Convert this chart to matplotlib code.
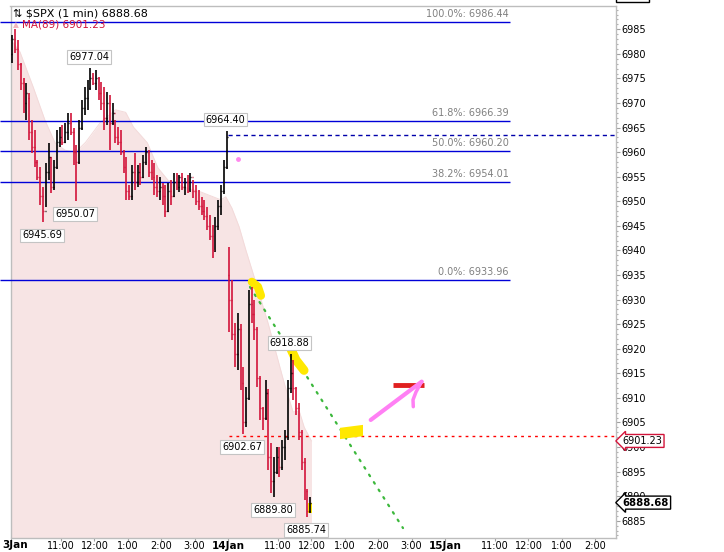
import matplotlib
matplotlib.use("Agg")
import matplotlib.pyplot as plt
from matplotlib.ticker import MultipleLocator, FixedLocator
from matplotlib.transforms import blended_transform_factory
from matplotlib.patches import Rectangle
import numpy as np

plt.rcParams['font.family'] = ['DejaVu Sans']

# ---------------- data (5-minute bars) ----------------
# time axis = trading minutes since 13 Jan 09:30 (one session = 390 minutes)
opens13 = [6980, 6983, 6981, 6978, 6974, 6970, 6971, 6964, 6961, 6958, 6955, 6951, 6948, 6956, 6959, 6953,
           6957, 6962, 6963, 6962, 6964, 6966, 6964, 6960, 6958, 6965, 6969, 6971, 6973, 6975, 6974, 6975,
           6972, 6970, 6967, 6970, 6966, 6968, 6963, 6962, 6960, 6957, 6952, 6951, 6956, 6954, 6956, 6955,
           6958, 6960, 6956, 6955, 6953, 6952, 6953, 6951, 6948, 6952, 6951, 6954, 6953, 6955, 6953, 6954,
           6952, 6955, 6952, 6950, 6949, 6948, 6947, 6945, 6943, 6940, 6945, 6949, 6952, 6957]
highs13 = [6983.8, 6985.0, 6982.8, 6978.2, 6975.1, 6974.1, 6972.0, 6966.5, 6964.5, 6958.4, 6957.0, 6952.9,
           6957.8, 6961.9, 6959.0, 6958.4, 6964.5, 6965.1, 6965.5, 6965.9, 6968.0, 6968.0, 6965.0, 6961.4,
           6966.5, 6970.6, 6973.3, 6974.7, 6977.04, 6976.2, 6976.7, 6975.3, 6974.3, 6973.3, 6972.2, 6971.6,
           6970.0, 6966.5, 6965.1, 6964.5, 6960.4, 6959.0, 6953.3, 6957.4, 6959.8, 6957.4, 6957.8, 6959.4,
           6961.0, 6960.4, 6958.4, 6957.8, 6955.3, 6955.0, 6953.7, 6953.3, 6953.7, 6954.3, 6955.8, 6955.8,
           6955.4, 6955.8, 6954.7, 6955.4, 6955.8, 6954.3, 6953.3, 6952.3, 6950.9, 6950.3, 6948.8, 6947.2,
           6945.2, 6946.8, 6950.3, 6953.3, 6958.4, 6964.40]
lows13 = [6978.1, 6980.2, 6976.7, 6972.6, 6968.0, 6966.5, 6962.5, 6959.8, 6957.0, 6954.3, 6949.2, 6945.69,
          6948.8, 6954.3, 6951.7, 6952.3, 6956.5, 6961.1, 6961.5, 6961.8, 6962.5, 6963.5, 6957.4, 6950.07,
          6957.5, 6964.5, 6967.5, 6968.6, 6972.6, 6973.7, 6972.6, 6970.6, 6968.6, 6964.5, 6965.5, 6960.4,
          6965.5, 6961.8, 6961.4, 6959.4, 6955.8, 6950.3, 6950.3, 6950.3, 6952.3, 6952.9, 6953.3, 6954.8,
          6957.4, 6955.0, 6954.3, 6951.3, 6950.9, 6950.3, 6949.2, 6946.8, 6947.8, 6949.2, 6950.8, 6952.3,
          6951.9, 6952.3, 6951.3, 6951.7, 6951.8, 6950.7, 6949.2, 6948.2, 6947.2, 6946.2, 6944.2, 6942.1,
          6938.5, 6939.6, 6944.2, 6947.2, 6951.5, 6956.5]
closes13 = [6983, 6981, 6978, 6974, 6970, 6972, 6964, 6961, 6958, 6955, 6951, 6948, 6956, 6959, 6953, 6957,
            6962, 6963, 6962, 6964, 6966, 6964, 6960, 6958, 6965, 6969, 6971, 6973, 6975, 6974, 6975, 6972,
            6970, 6967, 6970, 6966, 6968, 6963, 6962, 6960, 6957, 6952, 6951, 6956, 6954, 6956, 6955, 6958,
            6960, 6956, 6955, 6953, 6952, 6953, 6951, 6948, 6952, 6951, 6954, 6953, 6955, 6953, 6954, 6952,
            6955, 6952, 6950, 6949, 6948, 6947, 6945, 6943, 6940, 6945, 6949, 6952, 6957, 6963]

opens14 = [6935, 6930, 6923, 6919, 6924, 6913, 6905, 6910, 6929, 6927, 6924, 6914, 6908, 6906, 6911,
           6898, 6893, 6895, 6898, 6896, 6900, 6902, 6912, 6915, 6912, 6908, 6903, 6897, 6891, 6887]
highs14 = [6940.7, 6934.0, 6925.2, 6927.2, 6925.0, 6916.3, 6912.2, 6932.0, 6932.6, 6929.9, 6924.4, 6914.5,
           6908.1, 6913.6, 6911.8, 6900.8, 6898.0, 6900.0, 6900.0, 6901.4, 6903.5, 6913.6, 6918.88, 6917.7,
           6912.2, 6908.9, 6903.5, 6897.8, 6891.5, 6889.8]
lows14 = [6923.5, 6921.8, 6916.3, 6915.7, 6911.6, 6902.67, 6904.1, 6909.6, 6925.2, 6921.8, 6912.2, 6905.5,
          6903.5, 6905.5, 6895.3, 6890.7, 6889.80, 6894.5, 6893.9, 6895.3, 6897.3, 6901.5, 6911.0, 6909.6,
          6906.5, 6901.4, 6895.3, 6889.2, 6885.74, 6886.5]
closes14 = [6930, 6923, 6919, 6924, 6913, 6905, 6910, 6929, 6927, 6924, 6914, 6908, 6906, 6911, 6898,
            6893, 6895, 6898, 6896, 6900, 6902, 6912, 6915, 6912, 6908, 6903, 6897, 6891, 6887, 6888.68]

bar_start13 = list(range(0, 390, 5))
bar_start14 = list(range(390, 540, 5))

# MA(89) curve
ma_minutes = [0, 16, 40, 61, 79, 97, 116, 134, 161, 188, 206, 220, 245, 264, 282, 310, 341, 368, 377, 386,
              397, 410, 422, 437, 462, 491, 507, 518, 527, 540]
ma_values = [6982.8, 6980.4, 6973.2, 6966.5, 6961.9, 6960.4, 6960.0, 6962.0, 6966.1, 6968.6, 6968.1, 6965.1,
             6961.9, 6956.8, 6954.3, 6952.9, 6951.9, 6950.7, 6950.3, 6950.9, 6948.6, 6944.8, 6940.1, 6934.6,
             6925.2, 6913.0, 6907.1, 6907.3, 6904.0, 6901.23]

# Fibonacci retracement levels
fib_pcts = ["100.0%", "61.8%", "50.0%", "38.2%", "0.0%"]
fib_levels = [6986.44, 6966.39, 6960.20, 6954.01, 6933.96]

# x tick labels
tick_minutes = [0, 90, 150, 210, 270, 330, 390, 480, 540, 600, 660, 720, 780, 870, 930, 990, 1050]
tick_labels = ["3Jan", "11:00", "12:00", "1:00", "2:00", "3:00", "14Jan", "11:00", "12:00", "1:00", "2:00",
               "3:00", "15Jan", "11:00", "12:00", "1:00", "2:00"]
day_ticks = ["3Jan", "14Jan", "15Jan"]

last_price = 6888.68
ma_last = 6901.23
resistance_level = 6963.5
support_level = 6902.2
trend_start = (429.5, 6932.55)
trend_end = (704.5, 6883.5)

# ---------------- figure ----------------
fig = plt.figure(figsize=(7.24, 5.52), dpi=100)
ax = fig.add_axes([0, 1 - 537.7 / 552, 615.7 / 724, (537.7 - 6) / 552])
XMIN, XMAX = -19.8, 1086.8
YMIN, YMAX = 6881.54, 6989.74
ax.set_xlim(XMIN, XMAX)
ax.set_ylim(YMIN, YMAX)

times = np.array(bar_start13 + bar_start14) + 2.5
opens = np.array(opens13 + opens14, dtype=float)
highs = np.array(highs13 + highs14, dtype=float)
lows = np.array(lows13 + lows14, dtype=float)
closes = np.array(closes13 + closes14, dtype=float)

# MA band
ax.fill_between(ma_minutes, ma_values, YMIN, color='#F7E4E4', lw=0, zorder=1)
ax.plot(ma_minutes, ma_values, color='#F3DADA', lw=0.7, zorder=1)

# Fib lines + labels
for pct, lvl in zip(fib_pcts, fib_levels):
    ax.hlines(lvl, XMIN, 896.8, color='#0000D8', lw=1.0, zorder=2)
    ax.annotate(f"{pct}: {lvl:.2f}", xy=(896.8, lvl), xytext=(-1, 3), textcoords='offset pixels',
                ha='right', va='bottom', color='#808080', fontsize=7)

# horizontal reference lines
ax.hlines(resistance_level, 390, XMAX, color='#0000AA', lw=1.0, linestyles=(0, (3, 2.5)), zorder=2)
ax.hlines(support_level, 392, XMAX, color='#FF0000', lw=1.0, linestyles=(0, (2, 3)), zorder=2)

# trend line
ax.plot([trend_start[0], trend_end[0]], [trend_start[1], trend_end[1]], color='#3CB83C', lw=1.6,
        linestyle=(0, (0.8, 3.2)), zorder=2, dash_capstyle='round')

# hand drawn highlights
yel = '#FFE800'
ax.plot([432.9, 443.7, 449.1], [6933.6, 6932.6, 6930.8], color=yel, lw=6, solid_capstyle='round', zorder=2.5)
ax.plot([503.2, 512.2, 526.6], [6919.9, 6917.7, 6915.6], color=yel, lw=6.5, solid_capstyle='round', zorder=2.5)
ax.fill([591.3, 632.6, 632.6, 591.3], [6903.9, 6904.5, 6902.2, 6901.6], color=yel, lw=0, zorder=2.5)
ax.fill([533.8, 541.0, 541.0, 533.8], [6888.6, 6888.6, 6886.6, 6886.6], color=yel, lw=0, zorder=2.5)
ax.plot([686.6, 742.3], [6912.6, 6912.6], color='#E02020', lw=3.5, solid_capstyle='butt', zorder=3)
ax.plot([646.5, 738.1], [6905.5, 6913.3], color='#FF80F4', lw=3, solid_capstyle='round', zorder=3)
ax.plot([738.1, 727.9, 722.5, 723.0], [6913.3, 6911.2, 6909.6, 6908.2], color='#FF80F4', lw=2.5,
        solid_capstyle='round', zorder=3)
ax.plot([407.1], [6958.7], 'o', color='#FF88EE', ms=3.5, mec='none', zorder=3)

# OHLC bars
up = closes >= opens
cols = np.where(up, '#000000', '#D2143A')
ax.vlines(times, lows, highs, colors=cols, lw=1.2, zorder=4)
ax.hlines(opens, times - 1.7, times, colors=cols, lw=1.0, zorder=4)
ax.hlines(closes, times, times + 1.7, colors=cols, lw=1.0, zorder=4)

# high/low callouts
box = dict(boxstyle='square,pad=0.2', fc='white', ec='#C4C4C4', lw=0.8)
callouts = [(28, 'hi', 0), (11, 'lo', 0), (23, 'lo', 0), (77, 'hi', 0), (5, 'lo', 1), (16, 'lo', 1),
            (22, 'hi', 1), (28, 'lo', 1)]
for idx, kind, day in callouts:
    base = 0 if day == 0 else len(opens13)
    t = times[base + idx]
    v = highs[base + idx] if kind == 'hi' else lows[base + idx]
    dy = 11 if kind == 'hi' else -13
    ax.annotate(f"{v:.2f}", xy=(t, v), xytext=(-1, dy), textcoords='offset pixels', ha='center',
                va='center', fontsize=7, color='black', bbox=box, zorder=6)

# axes styling
ax.spines['left'].set_visible(False)
for s in ['top', 'bottom', 'right']:
    ax.spines[s].set_color('#BDBDBD')
    ax.spines[s].set_linewidth(1.0)
ax.spines['top'].set_bounds(-1, XMAX)
ax.spines['bottom'].set_bounds(0, XMAX)
ax.axvline(0, color='#BDBDBD', lw=1.0, zorder=1.5)

ax.yaxis.tick_right()
ax.set_yticks(np.arange(6885, 6990, 5))
ax.yaxis.set_minor_locator(MultipleLocator(1))
ax.tick_params(axis='y', which='major', length=3, width=0.8, color='#A0A0A0', pad=1, labelsize=7,
               labelcolor='black')
ax.tick_params(axis='y', which='minor', length=1.5, width=0.8, color='#B0B0B0')

# first day label is partly cut at the left edge in the reference; draw it as left-aligned text instead
ax.xaxis.set_major_locator(FixedLocator(tick_minutes))
ax.set_xticklabels([""] + tick_labels[1:])
ax.tick_params(axis='x', which='major', length=2, width=0.8, color='#A0A0A0', pad=0.5, labelsize=7,
               labelcolor='black')
for lab in ax.get_xticklabels():
    if lab.get_text() in day_ticks:
        lab.set_fontweight('bold')
        lab.set_fontsize(7.5)
fig.text(2 / 724, 1 - 545 / 552, tick_labels[0], fontsize=7.5, fontweight='bold', color='black',
         ha='left', va='center')

# right-axis value tags
trans = blended_transform_factory(ax.transAxes, ax.transData)
ax.annotate(f"{ma_last:.2f}", xy=(1.0, ma_last), xycoords=trans, xytext=(7, 0), textcoords='offset pixels',
            ha='left', va='center', fontsize=7, color='black', zorder=10,
            bbox=dict(boxstyle='larrow,pad=0.15', fc='white', ec='#D2143A', lw=1.0), annotation_clip=False)
ax.annotate(f"{last_price:.2f}", xy=(1.0, last_price), xycoords=trans, xytext=(7, 0),
            textcoords='offset pixels', ha='left', va='center', fontsize=7.3, fontweight='bold',
            color='black', zorder=10, bbox=dict(boxstyle='larrow,pad=0.15', fc='white', ec='black', lw=1.0),
            annotation_clip=False)

# clipped tag at the very top of the price axis
fig.patches.append(Rectangle((616 / 724, 1 - 2 / 552), 33 / 724, 12 / 552, transform=fig.transFigure,
                             fc='white', ec='black', lw=1.0))

# header text
fig.text(13 / 724, 1 - 13 / 552, "\u21c5 $SPX (1 min) 6888.68", fontsize=8, color='black', va='center',
         ha='left')
fig.text(13 / 724, 1 - 24.5 / 552, "\u25b2", fontsize=5.5, color='#F2B6BE', va='center', ha='left')
fig.text(22 / 724, 1 - 24.5 / 552, f"MA(89) {ma_last:.2f}", fontsize=7.5, color='#D2143A', va='center',
         ha='left')

fig.savefig("out.png", dpi=100)
